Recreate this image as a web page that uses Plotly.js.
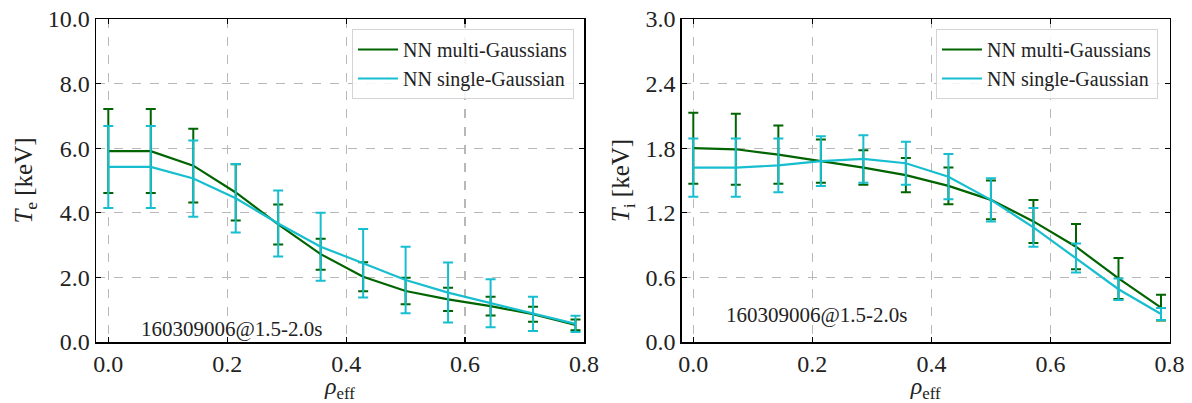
<!DOCTYPE html>
<html><head><meta charset="utf-8">
<script src="https://cdn.plot.ly/plotly-3.0.1.min.js"></script>
<style>html,body{margin:0;padding:0;background:#fff}#plot{width:1192px;height:403px}</style>
</head><body><div id="plot"></div>
<script>
// rho_eff positions
const rho = [0, 0.0714, 0.1429, 0.2143, 0.2857, 0.3571, 0.4286, 0.5, 0.5714, 0.6429, 0.7143, 0.7857];
// Te (left panel)
const teMulti    = [5.91, 5.91, 5.46, 4.63, 3.64, 2.72, 2.02, 1.58, 1.32, 1.11, 0.86, 0.53];
const teMultiErr = [1.30, 1.30, 1.14, 0.87, 0.62, 0.48, 0.45, 0.41, 0.36, 0.29, 0.23, 0.17];
const teSingle    = [5.42, 5.42, 5.06, 4.45, 3.67, 2.95, 2.44, 1.92, 1.53, 1.20, 0.87, 0.56];
const teSingleErr = [1.27, 1.27, 1.18, 1.06, 1.02, 1.05, 1.06, 1.03, 0.93, 0.74, 0.53, 0.25];
// Ti (right panel)
const tiMulti    = [1.80, 1.79, 1.74, 1.68, 1.62, 1.55, 1.45, 1.32, 1.12, 0.885, 0.59, 0.32];
const tiMultiErr = [0.33, 0.33, 0.27, 0.20, 0.16, 0.16, 0.17, 0.18, 0.20, 0.21, 0.19, 0.12];
const tiSingle    = [1.62, 1.62, 1.64, 1.68, 1.70, 1.66, 1.535, 1.32, 1.065, 0.78, 0.49, 0.26];
const tiSingleErr = [0.27, 0.27, 0.25, 0.23, 0.22, 0.20, 0.21, 0.20, 0.18, 0.135, 0.10, 0.055];

const names = ['NN multi-Gaussians', 'NN single-Gaussian'];
const annText = '160309006@1.5-2.0s';
const GREEN = '#006400', CYAN = '#17becf';
const FONT = 'Liberation Serif';
const TXT = '#222';

function tr(y, err, color, name, xa, ya, leg) {
  return {
    x: rho, y: y, type: 'scatter', mode: 'lines', name: name,
    xaxis: xa, yaxis: ya, legend: leg,
    line: {color: color, width: 2.2},
    error_y: {type: 'data', array: err, visible: true, color: color, thickness: 2, width: 5}
  };
}

const data = [
  tr(teMulti, teMultiErr, GREEN, names[0], 'x', 'y', 'legend'),
  tr(teSingle, teSingleErr, CYAN, names[1], 'x', 'y', 'legend'),
  tr(tiMulti, tiMultiErr, GREEN, names[0], 'x2', 'y2', 'legend2'),
  tr(tiSingle, tiSingleErr, CYAN, names[1], 'x2', 'y2', 'legend2')
];

const W = 1192, H = 403;
function ax(extra) {
  return Object.assign({
    showline: true, linecolor: '#000', linewidth: 1.5, mirror: 'ticks',
    ticks: 'inside', ticklen: 5, tickwidth: 1.2, tickcolor: '#000',
    showgrid: true, gridcolor: '#b8b8b8', gridwidth: 1.2, griddash: 'dash',
    zeroline: false, tickformat: '.1f', automargin: false,
    tickfont: {family: FONT, size: 24, color: TXT}
  }, extra);
}
const xTitle = {text: '<i>ρ</i><sub>eff</sub>', font: {family: FONT, size: 24, color: TXT}, standoff: 4};
function legendAt(xr) {
  return {x: xr/W, y: 1-29/H, xanchor: 'right', yanchor: 'top', xref: 'paper', yref: 'paper',
    bgcolor: 'rgba(255,255,255,0.85)', bordercolor: '#d4d4d4', borderwidth: 1,
    font: {family: FONT, size: 20, color: TXT}, tracegroupgap: 0, itemwidth: 40};
}

const layout = {
  width: W, height: H,
  margin: {l: 0, r: 0, t: 0, b: 0},
  paper_bgcolor: '#fff', plot_bgcolor: '#fff',
  font: {family: FONT, color: TXT},
  xaxis: ax({domain: [96/W, 584/W], range: [-0.0207, 0.8], dtick: 0.2, tick0: 0, anchor: 'y', title: xTitle}),
  yaxis: ax({domain: [1-342/H, 1-19/H], range: [0, 10], dtick: 2, tick0: 0, anchor: 'x',
    title: {text: '<i>T</i><sub>e</sub> [keV]', font: {family: FONT, size: 25, color: TXT}, standoff: 8}}),
  xaxis2: ax({domain: [681.7/W, 1169.5/W], range: [-0.0195, 0.8], dtick: 0.2, tick0: 0, anchor: 'y2', title: xTitle}),
  yaxis2: ax({domain: [1-342/H, 1-19/H], range: [0, 3], dtick: 0.6, tick0: 0, anchor: 'x2',
    title: {text: '<i>T</i><sub>i</sub> [keV]', font: {family: FONT, size: 25, color: TXT}, standoff: 8}}),
  legend: legendAt(574),
  legend2: legendAt(1158),
  annotations: [
    {text: annText, x: 232/W, y: 1-329/H, xref: 'paper', yref: 'paper', showarrow: false,
      xanchor: 'center', yanchor: 'middle', font: {family: FONT, size: 21, color: TXT}},
    {text: annText, x: 817/W, y: 1-315/H, xref: 'paper', yref: 'paper', showarrow: false,
      xanchor: 'center', yanchor: 'middle', font: {family: FONT, size: 21, color: TXT}}
  ],
  showlegend: true
};

Plotly.newPlot('plot', data, layout, {staticPlot: true, displayModeBar: false});
</script></body></html>
